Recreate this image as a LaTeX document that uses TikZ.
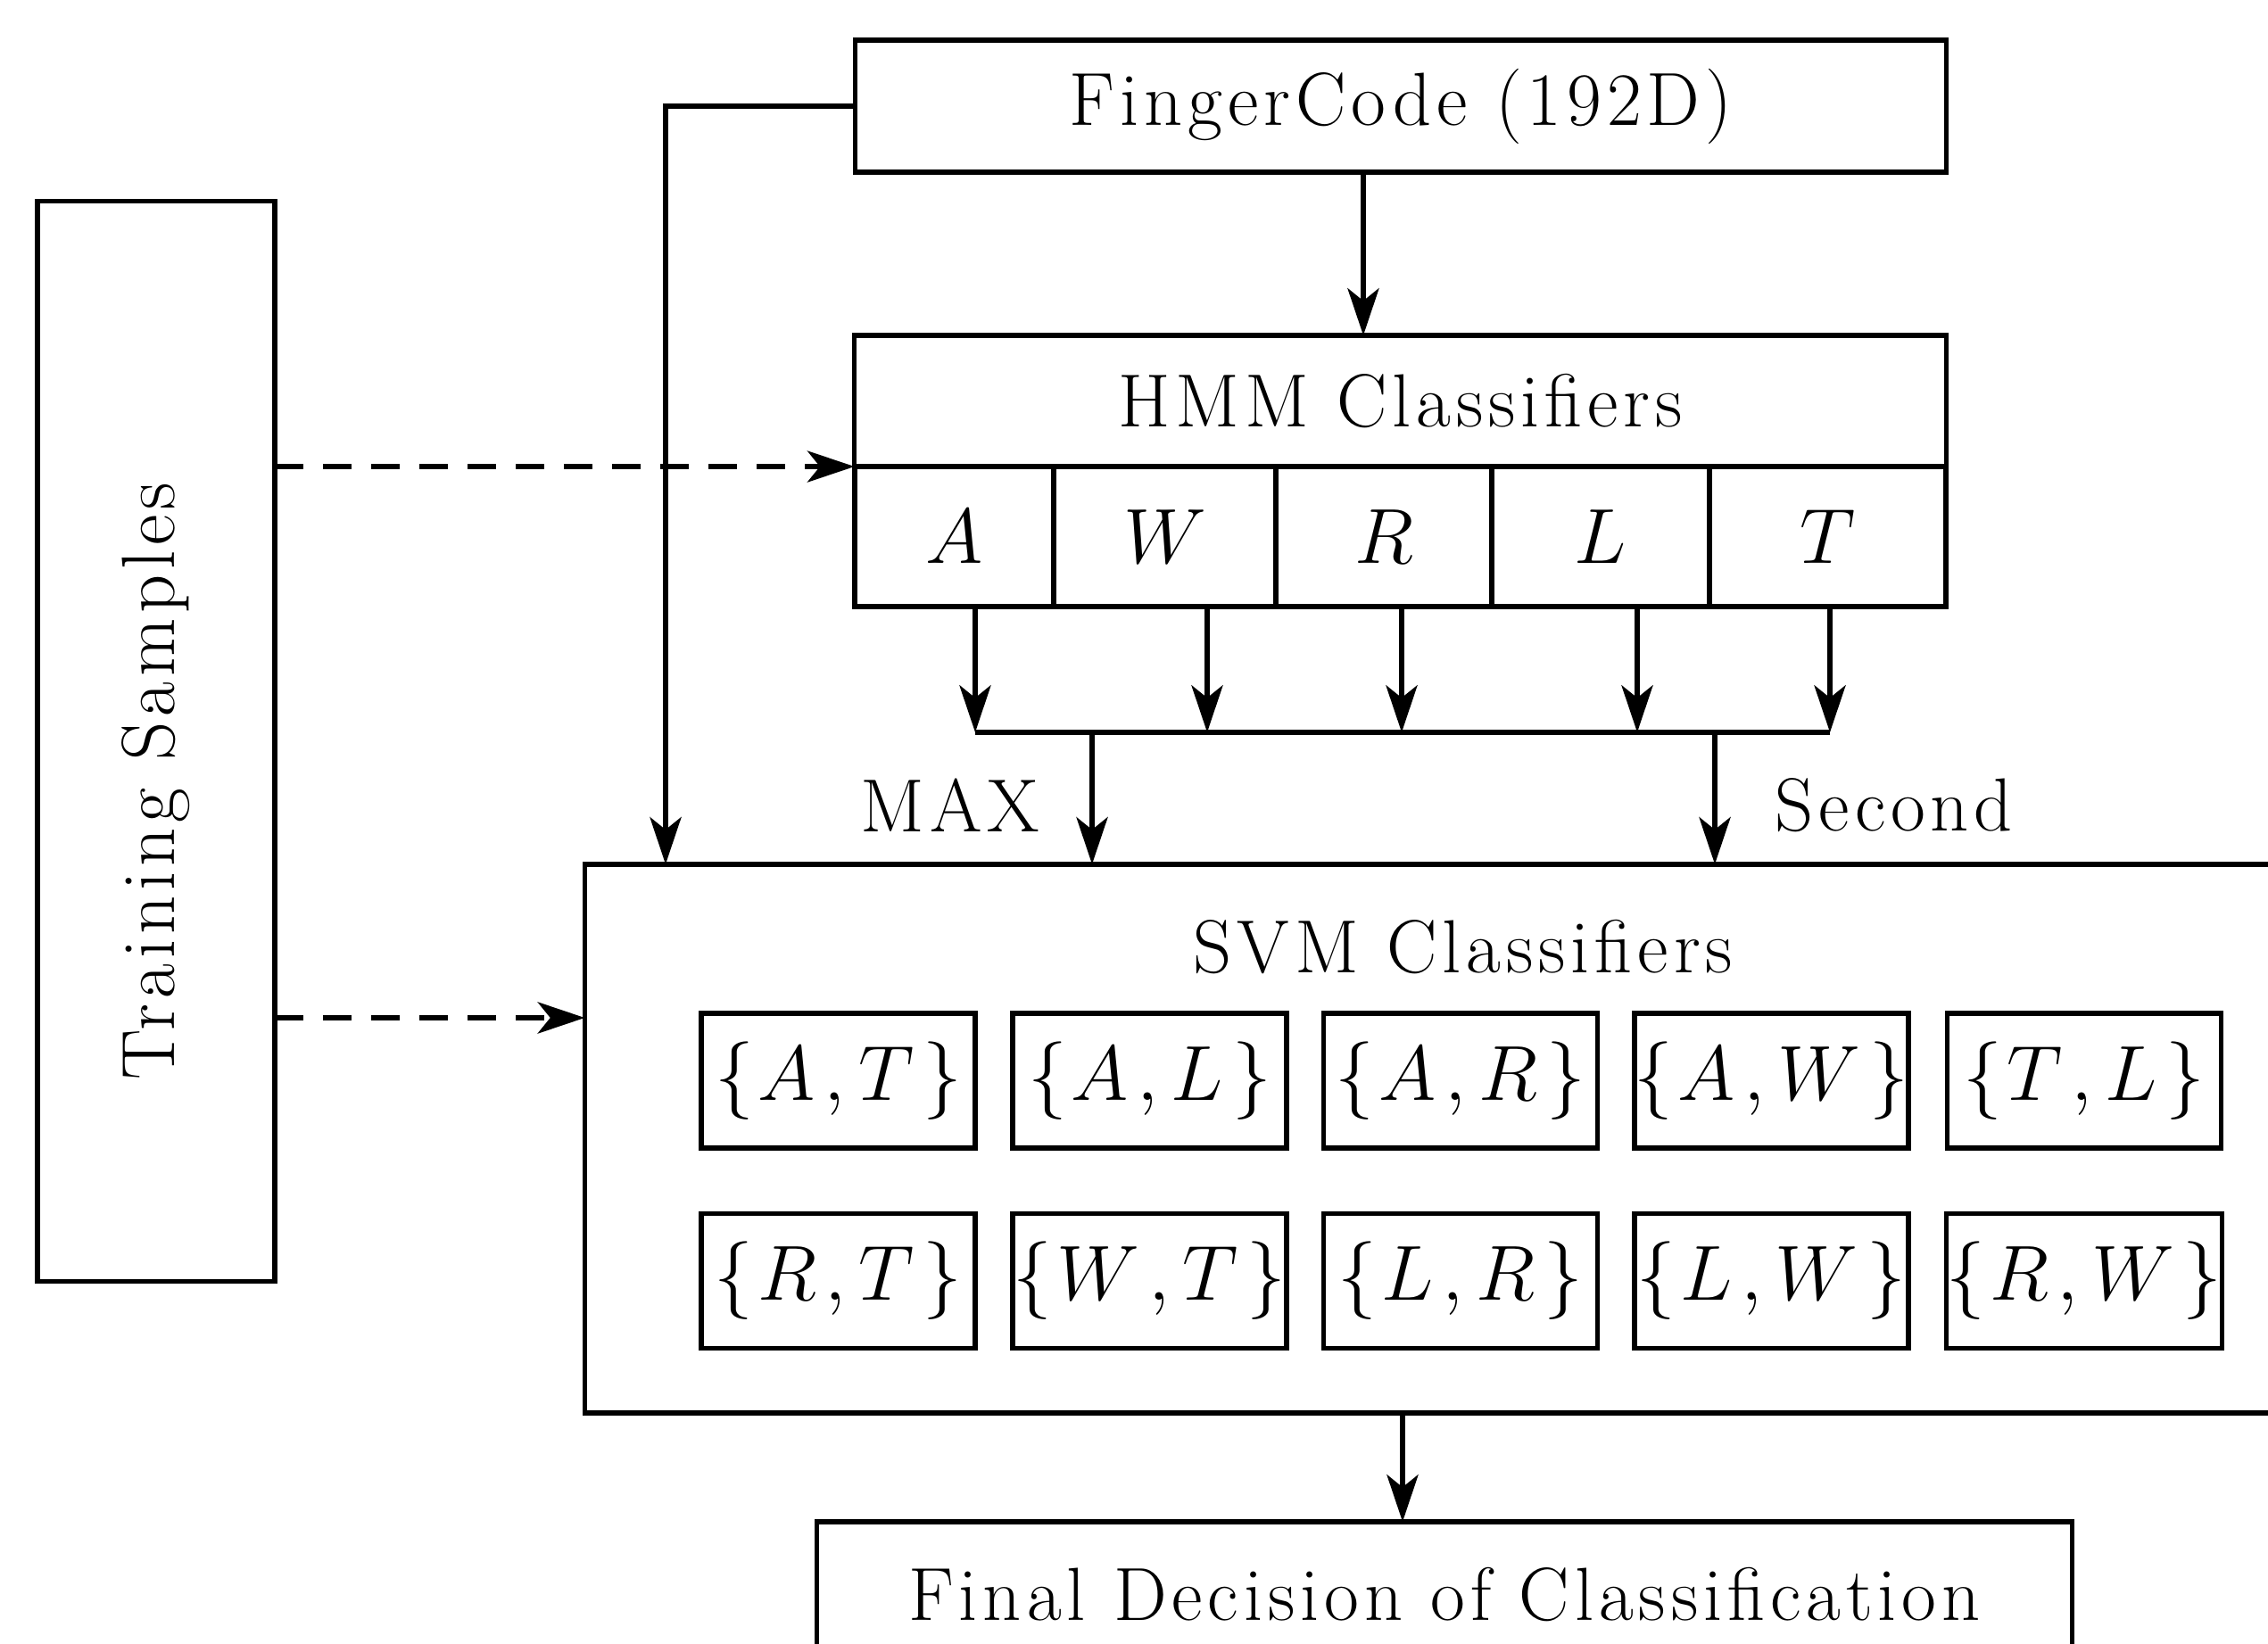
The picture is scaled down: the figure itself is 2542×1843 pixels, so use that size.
\documentclass[tikz,border=0pt]{standalone}
\usepackage{fontspec}
\setmainfont{Latin Modern Roman}[LetterSpace=7.0]
\usetikzlibrary{arrows.meta}
\newcommand{\pr}[2]{$\{\mkern1mu#1\mkern2mu,#2\mkern2mu\}$}
\begin{document}
\begin{tikzpicture}[x=0.01cm,y=-0.01cm,
  every node/.style={font=\fontsize{24}{28}\selectfont, inner sep=0pt, outer sep=0pt},
  box/.style={draw, line width=1.6pt},
  pair/.style={box, minimum width=3.07cm, minimum height=1.51cm},
  cell/.style={box, minimum height=1.57cm},
  arr/.style={line width=1.6pt, -{Stealth[length=15pt,width=10pt,inset=4pt]}},
  darr/.style={arr, dash pattern=on 0.32cm off 0.22cm},
  ln/.style={line width=1.6pt}]
\useasboundingbox (0,0) rectangle (2542,1843);
\clip (0,0) rectangle (2542,1843);

% boxes
\node[box, minimum width=12.22cm, minimum height=1.48cm] (fc) at (1570,119) {FingerCode (192D)};
\node[box, minimum width=12.23cm, minimum height=1.47cm] (hmm) at (1569.5,449.5) {HMM Classifiers};
\node[cell, minimum width=2.23cm] (cA) at (1069.5,601.5) {$A$};
\node[cell, minimum width=2.49cm] (cW) at (1305.5,601.5) {$W$};
\node[cell, minimum width=2.42cm] (cR) at (1551,601.5) {$R$};
\node[cell, minimum width=2.44cm] (cL) at (1794,601.5) {$L$};
\node[cell, minimum width=2.65cm] (cT) at (2048.5,601.5) {$T$};

\node[box, minimum width=2.66cm, minimum height=12.10cm] (ts) at (175,831) {};
\node[rotate=90] (tsl) at (175,876) {Training Samples};

\node[box, minimum width=19.44cm, minimum height=6.15cm] (svm) at (1628,1276.5) {};
\node (svml) at (1640,1062) {SVM Classifiers};

\node[pair] (p11) at (939.5,1211.5) {\pr{A}{T}};
\node[pair] (p12) at (1288.5,1211.5) {\pr{A}{L}};
\node[pair] (p13) at (1637,1211.5) {\pr{A}{R}};
\node[pair] (p14) at (1985.5,1211.5) {\pr{A}{W}};
\node[pair] (p15) at (2336,1211.5) {\pr{T}{L}};
\node[pair] (p21) at (939.5,1436) {\pr{R}{T}};
\node[pair] (p22) at (1288.5,1436) {\pr{W}{T}};
\node[pair] (p23) at (1637,1436) {\pr{L}{R}};
\node[pair] (p24) at (1985.5,1436) {\pr{L}{W}};
\node[pair] (p25) at (2336,1436) {\pr{R}{W}};

\node[box, minimum width=14.06cm, minimum height=1.64cm] (fin) at (1619,1788) {Final Decision of Classification};

\node (max) at (1065,903) {MAX};
\node (sec) at (2123,903) {Second};

% connectors
\coordinate (lx) at (746,0);
\draw[arr] (fc.west) -| (lx |- svm.north);

\coordinate (fhx) at (1528,0);
\draw[arr] (fhx |- fc.south) -- (fhx |- hmm.north);

\draw[darr] (ts.east |- hmm.south west) -- (hmm.south west);
\coordinate (d2) at (0,1141);
\draw[darr] (d2 -| ts.east) -- (d2 -| svm.west);

\coordinate (bA) at (1093,821);
\coordinate (bW) at (1353,821);
\coordinate (bR) at (1571,821);
\coordinate (bL) at (1835,821);
\coordinate (bT) at (2051,821);
\draw[arr] (bA |- cA.south) -- (bA);
\draw[arr] (bW |- cW.south) -- (bW);
\draw[arr] (bR |- cR.south) -- (bR);
\draw[arr] (bL |- cL.south) -- (bL);
\draw[arr] (bT |- cT.south) -- (bT);
\draw[ln] (bA) -- (bT);

\coordinate (bM) at (1224,821);
\coordinate (bS) at (1922,821);
\draw[arr] (bM) -- (bM |- svm.north);
\draw[arr] (bS) -- (bS |- svm.north);

\coordinate (fx) at (1572,0);
\draw[arr] (fx |- svm.south) -- (fx |- fin.north);
\end{tikzpicture}
\end{document}
